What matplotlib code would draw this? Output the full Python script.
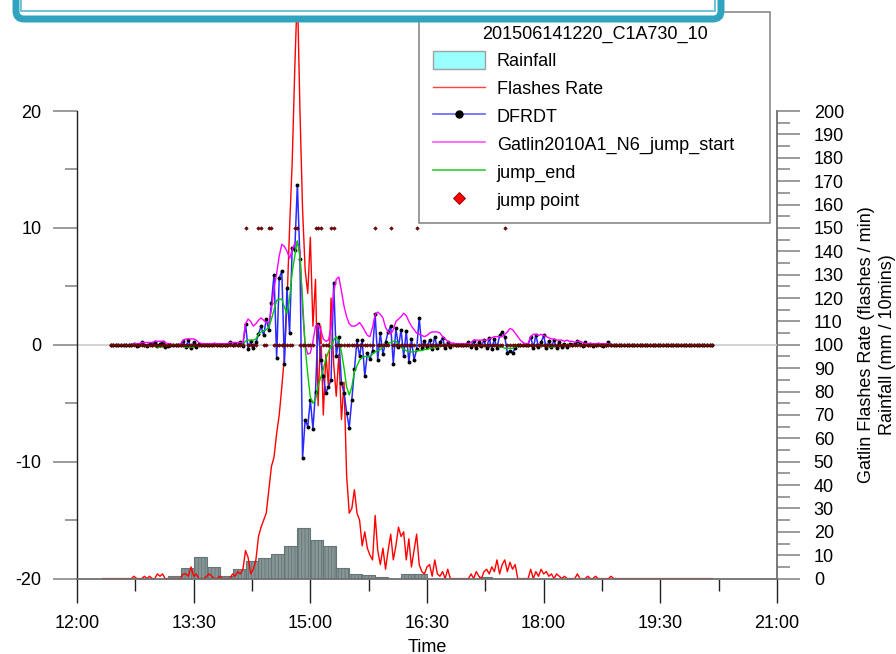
import numpy as np
import matplotlib
matplotlib.use("Agg")
import matplotlib.pyplot as plt
from matplotlib.patches import Patch, FancyBboxPatch, Rectangle
from matplotlib.lines import Line2D

plt.rcParams["font.family"] = ["Liberation Sans", "DejaVu Sans"]
plt.rcParams["axes.unicode_minus"] = False
plt.rcParams["hatch.linewidth"] = 0.6


def to_min(s):
    h, m = s.split(":")
    return int(h) * 60 + int(m)


legend_title = "201506141220_C1A730_10"
tick_labels = ["12:00", "13:30", "15:00", "16:30", "18:00", "19:30", "21:00"]

# series sampled every 2 minutes, 12:20 .. 20:10
time = np.arange(to_min("12:20"), to_min("20:10") + 1, 2)

flash_rate = [
    0, 0, 0, 0, 0, 0, 0, 0, 0, 0,
    0, 0, 1, 0, 0, 0, 1, 0, 1, 0,
    0, 2, 1, 2, 0, 0, 0, 0, 0, 0,
    0, 2, 2, 1, 5, 1, 2, 0, 0, 0,
    1, 2, 1, 0, 0, 1, 0, 0, 0, 0,
    2, 1, 3, 2, 4, 12, 9, 2, 4, 8,
    18, 22, 25, 28, 38, 48, 52, 62, 70, 82,
    95, 118, 150, 178, 218, 252, 200, 158, 132, 122,
    146, 108, 128, 74, 108, 70, 96, 82, 120, 92,
    78, 96, 68, 84, 44, 28, 30, 38, 28, 25,
    14, 20, 13, 10, 8, 27, 12, 6, 13, 4,
    12, 19, 8, 14, 22, 18, 20, 8, 17, 5,
    12, 19, 6, 3, 2, 5, 6, 1, 8, 2,
    1, 3, 0, 4, 0, 0, 0, 0, 0, 0,
    0, 0, 2, 0, 3, 1, 0, 3, 4, 2,
    5, 3, 8, 2, 6, 8, 3, 7, 4, 6,
    0, 0, 0, 0, 0, 4, 0, 3, 1, 4,
    2, 3, 1, 2, 0, 2, 1, 0, 1, 0,
    0, 0, 0, 2, 0, 0, 0, 1, 0, 0,
    1, 0, 0, 0, 0, 0, 1, 0, 0, 0,
    0, 0, 0, 0, 0, 0, 0, 0, 0, 0,
    0, 0, 0, 0, 0, 0, 0, 0, 0, 0,
    0, 0, 0, 0, 0, 0, 0, 0, 0, 0,
    0, 0, 0, 0, 0, 0,
]

nan = np.nan
dfrdt = [
    nan, nan, nan, 0, 0, 0, 0, 0, 0, 0,
    0, 0, 0.1, -0.1, 0, 0.2, 0, -0.1, 0.1, 0,
    0.2, -0.1, 0.1, 0.2, -0.2, -0.1, 0, 0, 0, 0,
    0, 0.3, -0.2, 0.4, -0.3, 0.2, -0.2, 0.1, 0, 0,
    0, 0, 0, 0.1, 0, 0, 0, 0, 0, 0.2,
    0, 0.1, 0, 0.2, -0.1, 1.8, -0.4, 0.3, -0.3, 0.2,
    0.9, 1.6, 0.8, 2.2, 1.3, 3.6, 6.0, -1.1, 5.7, 6.3,
    -1.6, 4.9, 1.0, 8.3, 8.1, 13.7, 7.3, -9.7, -6.4, -7.0,
    -4.7, -7.2, -4.0, 1.8, -1.3, -2.7, -4.1, -3.6, -3.0, 5.3,
    -1.0, 0.7, -3.3, -4.1, -5.8, -7.1, -4.7, -2.1, 0.4, -1.0,
    0.4, -2.7, -0.7, -1.2, -0.5, 2.6, -1.3, 1.0, -0.8, 0.2,
    1.1, 1.6, -1.6, 1.4, -0.2, 1.3, -1.0, 1.2, -1.5, 0.5,
    -1.3, -0.4, 2.3, -0.3, 0.3, -0.2, 0.4, -0.4, 0.7, -0.3,
    0.2, 0.6, -0.3, 0.2, -0.2, 0.1, 0, 0, 0, 0,
    0, 0.2, -0.2, 0.3, -0.3, 0.2, -0.1, 0.4, -0.3, 0.6,
    -0.4, 0.5, -0.3, 0.8, 1.1, 0.7, -0.7, -0.5, -0.7, -0.3,
    0, 0, 0, 0, 0, 0.7, -0.3, 0.85, -0.2, 0.2,
    0.8, -0.3, 0.3, -0.2, 0.4, -0.3, 0.2, -0.2, 0.1, -0.2,
    0.1, 0, 0.1, 0.3, 0.1, -0.1, 0.2, 0, 0.1, -0.1,
    0, 0.1, 0, -0.1, 0, 0.2, 0, 0, 0, 0,
    0, 0, 0, 0, 0, 0, 0, 0, 0, 0,
    0, 0, 0, 0, 0, 0, 0, 0, 0, 0,
    0, 0, 0, 0, 0, 0, 0, 0, 0, 0,
    0, 0, 0, 0, 0, 0,
]

jump_start = [
    nan, nan, nan, 0, 0, 0, 0, 0, 0, 0,
    0, 0, 0.1, 0.1, 0.1, 0.2, 0.2, 0.2, 0.2, 0.2,
    0.3, 0.3, 0.3, 0.3, 0.2, 0.1, 0.1, 0, 0, 0,
    0.1, 0.4, 0.5, 0.5, 0.5, 0.5, 0.4, 0.2, 0.1, 0.1,
    0.1, 0.1, 0.1, 0.1, 0.1, 0.1, 0.1, 0.1, 0.1, 0.2,
    0.2, 0.2, 0.2, 0.2, 0.2, 1.8, 2.2, 2.0, 1.6, 1.8,
    2.1, 2.3, 2.1, 1.9, 1.9, 3.0, 4.8, 6.1, 7.6, 8.6,
    8.4, 8.0, 7.4, 8.1, 8.7, 8.8, 8.0, 3.0, 0.0, -0.8,
    -0.7, 0.3, 1.6, 1.7, 1.3, 0.5, 0.3, 0.4, 1.5, 4.5,
    5.6, 5.8, 4.6, 3.3, 2.4, 1.8, 1.6, 1.6, 1.7, 1.9,
    1.6, 1.2, 0.8, 0.7, 1.5, 2.6, 2.8, 2.6, 2.3, 1.5,
    1.1, 0.9, 1.3, 2.0, 2.2, 2.4, 2.7, 2.5, 2.0, 1.6,
    1.3, 1.0, 0.9, 0.8, 0.7, 0.8, 1.0, 1.1, 1.1, 1.1,
    1.0, 0.7, 0.5, 0.3, 0.2, 0.1, 0.1, 0.1, 0.1, 0.1,
    0.1, 0.1, 0.2, 0.4, 0.4, 0.4, 0.4, 0.4, 0.4, 0.5,
    0.6, 0.7, 0.7, 0.7, 0.7, 0.9, 1.1, 1.4, 1.3, 1.0,
    0.7, 0.4, 0.2, 0.1, 0.1, 0.7, 0.9, 0.9, 0.8, 0.9,
    0.8, 0.7, 0.6, 0.5, 0.5, 0.4, 0.4, 0.4, 0.3, 0.4,
    0.3, 0.3, 0.2, 0.3, 0.3, 0.2, 0.1, 0.1, 0.1, 0.1,
    0.1, 0.1, 0.1, 0.1, 0.1, 0.1, 0, 0, 0, 0,
    0, 0, 0, 0, 0, 0, 0, 0, 0, 0,
    0, 0, 0, 0, 0, 0, 0, 0, 0, 0,
    0, 0, 0, 0, 0, 0, 0, 0, 0, 0,
    0, 0, 0, 0, 0, 0,
]

jump_end = [
    nan, nan, nan, 0, 0, 0, 0, 0, 0, 0,
    0, 0, 0, 0, -0.1, -0.1, -0.1, -0.1, -0.1, -0.1,
    -0.1, -0.2, -0.2, -0.2, -0.1, -0.1, 0, 0, 0, 0,
    0, -0.1, -0.2, -0.2, -0.2, -0.2, -0.1, -0.1, 0, 0,
    0, 0, 0, 0, 0, 0, 0, 0, 0, 0,
    0, 0, 0, 0, 0, 0.3, 0.4, 0.4, 0.4, 0.5,
    0.9, 1.1, 1.2, 1.3, 1.5, 2.2, 3.0, 3.8, 3.9, 3.9,
    3.2, 2.7, 3.9, 6.2, 7.6, 8.9, 7.5, 3.9, -0.2, -2.5,
    -4.5, -5.0, -4.7, -3.5, -2.8, -2.1, -1.2, -0.6, -0.1, 0.4,
    0.7, 0.3, -0.6, -2.0, -3.6, -4.3, -3.6, -2.3, -1.8, -1.3,
    -1.1, -1.0, -1.0, -1.0, -0.8, -0.6, -0.5, -0.4, -0.2, -0.1,
    0.1, 0.2, 0.3, 0.3, 0.1, -0.2, -0.4, -0.5, -0.6, -0.6,
    -0.6, -0.5, -0.5, -0.5, -0.4, -0.4, -0.3, -0.3, -0.2, -0.2,
    -0.1, -0.1, 0, 0, 0, 0, 0, 0, 0, 0,
    0, 0, 0, -0.1, -0.1, -0.1, -0.1, -0.1, 0, 0,
    -0.1, -0.1, -0.1, -0.2, -0.2, -0.3, -0.3, -0.3, -0.3, -0.2,
    -0.1, 0, 0, 0, 0, -0.1, -0.1, -0.1, -0.1, -0.1,
    -0.1, -0.1, -0.2, -0.2, -0.1, -0.1, -0.1, 0, 0, 0,
    0, 0, 0, 0, 0, 0, 0, 0, 0, 0,
    0, 0, 0, 0, 0, 0, 0, 0, 0, 0,
    0, 0, 0, 0, 0, 0, 0, 0, 0, 0,
    0, 0, 0, 0, 0, 0, 0, 0, 0, 0,
    0, 0, 0, 0, 0, 0, 0, 0, 0, 0,
    0, 0, 0, 0, 0, 0,
]

jump_times = ["14:10", "14:20", "14:22", "14:28", "14:30", "14:48", "14:50",
              "15:04", "15:06", "15:08", "15:16", "15:18", "15:50", "16:02",
              "16:22", "17:30"]

# rainfall totals per 10 minutes, 13:10 .. 17:10
rain_start = np.arange(to_min("13:10"), to_min("17:10") + 1, 10)
rainfall = [1.3, 4.5, 9.3, 5.0, 1.3, 4.0, 7.6, 9.0, 10.5, 14.0,
            21.8, 16.5, 14.0, 4.5, 2.0, 1.5, 0.5, 0.0, 2.0, 2.0,
            0.0, 0.0, 0.0, 0.0, 0.8]

dfrdt = np.array(dfrdt, dtype=float)
jump_point = np.where(np.isin(time, [to_min(t) for t in jump_times]), 10.0, 0.0)
jump_point[np.isnan(dfrdt)] = np.nan

W, H = 896, 654
fig = plt.figure(figsize=(W / 100, H / 100), dpi=100)
ax = fig.add_axes([77 / W, 1 - 578.6 / H, 700 / W, 467.6 / H])
ax2 = ax.twinx()
ax.set_zorder(ax2.get_zorder() + 1)
ax.patch.set_visible(False)

ax2.bar(rain_start, rainfall, width=10, align="edge", color="#869696",
        edgecolor="#667676", linewidth=0.8, hatch="|||||", zorder=1)
ax2.plot(time, flash_rate, color="#ff0000", lw=1, clip_on=False, zorder=2)
ax2.set_ylim(0, 200)

ax.axhline(0, color="#cccccc", lw=1.2, zorder=0)
ax.plot(time, dfrdt, color="#2a2aff", lw=1.1, marker="o", ms=1.8,
        mfc="k", mec="k", zorder=3)
ax.plot(time, jump_start, color="#ff00ff", lw=1, zorder=4)
ax.plot(time, jump_end, color="#00c800", lw=1, zorder=4)
ax.plot(time, jump_point, ls="none", marker="D", ms=1.8, mfc="#900000",
        mec="#400000", mew=0.4, zorder=5)

ax.set_xlim(to_min("12:00"), to_min("21:00"))
ax.set_ylim(-20, 20)
ax.set_xticks([to_min(t) for t in tick_labels], tick_labels)
ax.set_xticks(np.arange(to_min("12:45"), to_min("21:00"), 90), minor=True)
ax.set_yticks([-20, -10, 0, 10, 20])
ax.set_yticks([-15, -5, 5, 15], minor=True)
ax2.set_yticks(np.arange(0, 201, 10))
ax2.set_yticks(np.arange(5, 200, 10), minor=True)

for s in ["top", "right"]:
    ax.spines[s].set_visible(False)
for s in ["top", "left", "bottom"]:
    ax2.spines[s].set_visible(False)
ax.spines["left"].set_color("#202020")
ax.spines["left"].set_linewidth(1.0)
ax.spines["bottom"].set_color("#707070")
ax.spines["bottom"].set_linewidth(1.3)
ax2.spines["right"].set_color("#707070")
ax2.spines["right"].set_linewidth(1.3)

ax.tick_params(axis="y", which="major", length=17, width=1.1, color="#808080",
               pad=8.5, labelsize=13)
ax.tick_params(axis="y", which="minor", length=8.6, width=1.1, color="#808080")
ax.tick_params(axis="x", which="major", length=17, width=1.0, color="#202020",
               pad=9, labelsize=13)
ax.tick_params(axis="x", which="minor", length=8.6, width=1.0, color="#202020")
ax2.tick_params(axis="y", which="major", length=16.5, width=1.1, color="#808080",
                pad=10, labelsize=13)
ax2.tick_params(axis="y", which="minor", length=9, width=1.1, color="#808080")

ax.set_xlabel("Time", fontsize=13, labelpad=5)
ax2.set_ylabel("Gatlin Flashes Rate (flashes / min)\nRainfall (mm / 10mins)",
               fontsize=13, labelpad=10, linespacing=1.3)

handles = [
    Patch(facecolor="#99ffff", edgecolor="#a0a0a0", lw=1),
    Line2D([], [], color="#ff4040", lw=1),
    Line2D([], [], color="#6464ff", lw=1.2, marker="o", ms=5, mfc="k", mec="k"),
    Line2D([], [], color="#ff55ff", lw=1.2),
    Line2D([], [], color="#33cc33", lw=1.2),
    Line2D([], [], ls="none", marker="D", ms=6, mfc="#ff0000", mec="#800000", mew=0.6),
]
labels = ["Rainfall", "Flashes Rate", "DFRDT", "Gatlin2010A1_N6_jump_start",
          "jump_end", "jump point"]
leg = ax.legend(handles, labels, title=legend_title, fontsize=13, title_fontsize=13,
                loc="upper left", mode="expand",
                bbox_to_anchor=(419 / W, 1 - 222 / H, 351 / W, 210 / H),
                bbox_transform=fig.transFigure, borderaxespad=0,
                fancybox=False, framealpha=1, edgecolor="#808080",
                handlelength=2.9, handleheight=1.15, handletextpad=0.65,
                labelspacing=0.48, borderpad=0.75)
leg.get_frame().set_linewidth(1.1)

# teal banner overlapping the top of the figure
over = fig.add_axes([0, 0, 1, 1], zorder=10)
over.set_xlim(0, W)
over.set_ylim(H, 0)
over.axis("off")
over.patch.set_visible(False)
over.add_patch(FancyBboxPatch((16, -40), 705, 59, boxstyle="round,pad=0,rounding_size=8",
                              lw=5, ec="#2fa3bf", fc="white", clip_on=False))
over.add_patch(Rectangle((21, -40), 694, 51, lw=1.2, ec="#5ab7cf", fc="none",
                         clip_on=False))

fig.savefig("out.png", dpi=100)
